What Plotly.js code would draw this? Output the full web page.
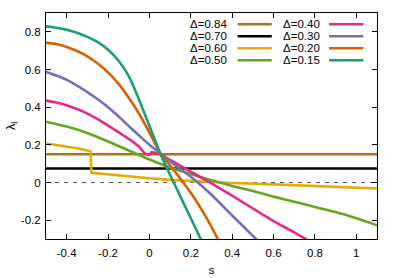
<!DOCTYPE html>
<html>
<head>
<meta charset="utf-8">
<script src="https://cdn.plot.ly/plotly-3.0.1.min.js"></script>
<style>html,body{margin:0;padding:0;background:#fff}#chart{width:399px;height:278px}</style>
</head>
<body>
<div id="chart"></div>
<script>
// ---- data ----
const labels = ["Δ=0.84", "Δ=0.70", "Δ=0.60", "Δ=0.50", "Δ=0.40", "Δ=0.30", "Δ=0.20", "Δ=0.15"];
const colors = ["#a6761d", "#000000", "#e6ab02", "#66a61e", "#e7298a", "#7570b3", "#d95f02", "#1b9e77"];

const x084 = [-0.5, 1.1];
const y084 = [0.15, 0.15];

const x070 = [-0.5, 1.1];
const y070 = [0.074, 0.074];

const x060 = [-0.5, -0.45, -0.4, -0.35, -0.3, -0.285, -0.28, -0.2, -0.1, 0, 0.1, 0.2, 0.4, 0.6, 0.8, 1.0, 1.1];
const y060 = [0.207, 0.2, 0.191, 0.182, 0.17, 0.166, 0.052, 0.043, 0.033, 0.023, 0.014, 0.007, -0.003, -0.01, -0.018, -0.026, -0.032];

const x050 = [-0.5, -0.4, -0.3, -0.2, -0.1, 0, 0.1, 0.2, 0.3, 0.4, 0.5, 0.6, 0.7, 0.8, 0.9, 1.0, 1.1];
const y050 = [0.323, 0.297, 0.263, 0.218, 0.17, 0.122, 0.08, 0.045, 0.012, -0.018, -0.045, -0.075, -0.102, -0.13, -0.157, -0.19, -0.227];

const x040 = [-0.5, -0.45, -0.4, -0.35, -0.3, -0.25, -0.2, -0.15, -0.1, -0.05, -0.02, 0.0, 0.012, 0.025, 0.045, 0.1, 0.2, 0.3, 0.4, 0.5, 0.6, 0.7, 0.77];
const y040 = [0.435, 0.425, 0.41, 0.39, 0.366, 0.336, 0.302, 0.267, 0.232, 0.19, 0.153, 0.148, 0.162, 0.158, 0.154, 0.12, 0.058, -0.005, -0.07, -0.138, -0.205, -0.265, -0.31];

const x030 = [-0.5, -0.45, -0.4, -0.35, -0.3, -0.25, -0.2, -0.15, -0.1, -0.05, 0, 0.05, 0.1, 0.2, 0.3, 0.4, 0.52];
const y030 = [0.588, 0.568, 0.545, 0.515, 0.48, 0.442, 0.4, 0.352, 0.3, 0.25, 0.2, 0.157, 0.112, 0.03, -0.065, -0.175, -0.305];

const x020 = [-0.5, -0.45, -0.4, -0.35, -0.3, -0.25, -0.2, -0.15, -0.1, -0.05, 0, 0.05, 0.1, 0.15, 0.2, 0.25, 0.3, 0.335];
const y020 = [0.743, 0.735, 0.72, 0.698, 0.67, 0.632, 0.585, 0.525, 0.45, 0.365, 0.265, 0.16, 0.09, 0.02, -0.055, -0.14, -0.235, -0.31];

const x015 = [-0.5, -0.45, -0.4, -0.35, -0.3, -0.25, -0.2, -0.15, -0.1, -0.05, 0, 0.05, 0.1, 0.15, 0.2, 0.25];
const y015 = [0.829, 0.822, 0.811, 0.795, 0.773, 0.745, 0.705, 0.648, 0.565, 0.44, 0.3, 0.16, 0.04, -0.075, -0.19, -0.305];

const xZero = [-0.5, 1.1];
const yZero = [0, 0];

const xTicks = [-0.4, -0.2, 0, 0.2, 0.4, 0.6, 0.8, 1];
const xTickText = ["-0.4", "-0.2", "0", "0.2", "0.4", "0.6", "0.8", "1"];
const yTicks = [-0.2, 0, 0.2, 0.4, 0.6, 0.8];
const yTickText = ["-0.2", "0", "0.2", "0.4", "0.6", "0.8"];

// ---- build ----
const xs = [x084, x070, x060, x050, x040, x030, x020, x015];
const ys = [y084, y070, y060, y050, y040, y030, y020, y015];
const shapesKind = ["linear", "linear", "linear", "spline", "spline", "spline", "spline", "spline"];

const FONT = "Liberation Sans, Arial, sans-serif";
const traces = [{
  x: xZero, y: yZero, mode: "lines", showlegend: false, hoverinfo: "skip",
  line: {color: "#555555", width: 1.2, dash: "4px,5px"}
}];
for (let i = 0; i < labels.length; i++) {
  traces.push({
    x: xs[i], y: ys[i], mode: "lines", name: labels[i], showlegend: false,
    line: {color: colors[i], width: 2.6, shape: shapesKind[i], smoothing: 0.5}
  });
}

// custom gnuplot-style legend (text then sample)
const annotations = [];
const shapes = [];
const rowY = [0.950, 0.897, 0.844, 0.791];
const colTextX = [0.554, 0.833];
const colLine = [[0.579, 0.682], [0.855, 0.959]];
for (let i = 0; i < labels.length; i++) {
  const c = Math.floor(i / 4), r = i % 4;
  annotations.push({
    xref: "paper", yref: "paper", x: colTextX[c], y: rowY[r],
    xanchor: "right", yanchor: "middle", showarrow: false,
    text: labels[i], font: {family: FONT, size: 11.5, color: "#000"}
  });
  shapes.push({
    type: "line", xref: "paper", yref: "paper",
    x0: colLine[c][0], x1: colLine[c][1], y0: rowY[r], y1: rowY[r],
    line: {color: colors[i], width: 2.6}
  });
}

const layout = {
  width: 399, height: 278,
  margin: {l: 46, r: 22, t: 13, b: 39},
  paper_bgcolor: "#fff", plot_bgcolor: "#fff",
  font: {family: FONT, size: 11.5, color: "#000"},
  showlegend: false,
  xaxis: {
    range: [-0.5, 1.1], tickmode: "array", tickvals: xTicks, ticktext: xTickText,
    ticks: "inside", ticklen: 5, tickcolor: "#000", tickwidth: 1,
    showline: true, linecolor: "#000", linewidth: 1, mirror: "ticks",
    showgrid: false, zeroline: false, ticklabelstandoff: 3,
    title: {text: "s", font: {family: FONT, size: 11.5}, standoff: 8}
  },
  yaxis: {
    range: [-0.3, 0.9], tickmode: "array", tickvals: yTicks, ticktext: yTickText,
    ticks: "inside", ticklen: 5, tickcolor: "#000", tickwidth: 1,
    showline: true, linecolor: "#000", linewidth: 1, mirror: "ticks",
    showgrid: false, zeroline: false, ticklabelstandoff: 2,
    title: {text: "λ<sub>l</sub>", font: {family: FONT, size: 12.5}, standoff: 2}
  },
  annotations: annotations,
  shapes: shapes
};

Plotly.newPlot("chart", traces, layout, {displayModeBar: false, staticPlot: true});
</script>
</body>
</html>
